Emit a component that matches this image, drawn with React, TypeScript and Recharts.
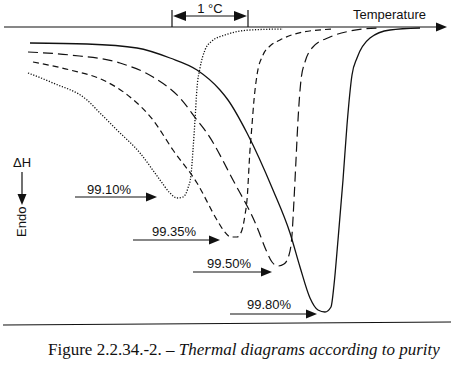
import React from 'react';
import { LineChart, Line, XAxis, YAxis, ReferenceLine, ReferenceDot } from 'recharts';

// t: temperature (arbitrary units, 76 units = 1 °C), d: heat flow depth below baseline (endo down)
const curve9910 = [
  { t: 28, d: 46 }, { t: 53, d: 56 }, { t: 87, d: 73 }, { t: 100, d: 86 }, { t: 117, d: 103 },
  { t: 140, d: 126 }, { t: 160, d: 153 }, { t: 170, d: 166 }, { t: 177, d: 171 }, { t: 183, d: 170 },
  { t: 188, d: 161 }, { t: 191, d: 148 }, { t: 193, d: 123 }, { t: 195, d: 93 }, { t: 197, d: 61 },
  { t: 200, d: 41 }, { t: 205, d: 23 }, { t: 212, d: 14 }, { t: 225, d: 8 }, { t: 250, d: 3 },
  { t: 283, d: 2 },
];

const curve9935 = [
  { t: 33, d: 35 }, { t: 70, d: 43 }, { t: 103, d: 53 }, { t: 130, d: 70 }, { t: 153, d: 93 },
  { t: 173, d: 123 }, { t: 197, d: 156 }, { t: 217, d: 193 }, { t: 224, d: 204 }, { t: 231, d: 210 },
  { t: 237, d: 210 }, { t: 242, d: 203 }, { t: 245, d: 188 }, { t: 247, d: 173 }, { t: 250, d: 123 },
  { t: 252, d: 98 }, { t: 254, d: 73 }, { t: 257, d: 48 }, { t: 263, d: 28 }, { t: 270, d: 19 },
  { t: 280, d: 13 }, { t: 303, d: 5 }, { t: 335, d: 2 },
];

const curve9950 = [
  { t: 28, d: 25 }, { t: 70, d: 28 }, { t: 120, d: 36 }, { t: 153, d: 50 }, { t: 180, d: 71 },
  { t: 197, d: 93 }, { t: 207, d: 106 }, { t: 233, d: 153 }, { t: 257, d: 200 }, { t: 266, d: 223 },
  { t: 272, d: 235 }, { t: 278, d: 239 }, { t: 284, d: 237 }, { t: 289, d: 228 }, { t: 292, d: 208 },
  { t: 294, d: 173 }, { t: 296, d: 133 }, { t: 298, d: 93 }, { t: 301, d: 53 }, { t: 305, d: 35 },
  { t: 312, d: 21 }, { t: 330, d: 10 }, { t: 350, d: 4 }, { t: 377, d: 1 },
];

const curve9980 = [
  { t: 30, d: 16 }, { t: 87, d: 17 }, { t: 137, d: 21 }, { t: 170, d: 31 }, { t: 197, d: 43 },
  { t: 220, d: 63 }, { t: 228, d: 73 }, { t: 247, d: 106 }, { t: 273, d: 163 }, { t: 290, d: 206 },
  { t: 300, d: 240 }, { t: 310, d: 271 }, { t: 318, d: 283 }, { t: 325, d: 285 }, { t: 331, d: 280 },
  { t: 334, d: 258 }, { t: 338, d: 213 }, { t: 343, d: 153 }, { t: 347, d: 98 }, { t: 352, d: 48 },
  { t: 357, d: 31 }, { t: 370, d: 11 }, { t: 390, d: 3 }, { t: 420, d: 1 },
];

const purityLabels = ['99.10%', '99.35%', '99.50%', '99.80%'];
const arrowFrom = [75, 133, 193, 230];
const arrowTo = [157, 220, 272, 317];
const arrowDepth = [170, 213, 245, 287];
const labelStart = [87, 152, 207, 247];
const labelDepth = [167, 209, 241, 282];

const FONT = '"Liberation Sans", Arial, Helvetica, sans-serif';
const INK = '#111';

const head = (x: number, y: number, ang: number, len = 11, half = 4.5) => {
  const bx = x - len * Math.cos(ang);
  const by = y - len * Math.sin(ang);
  const px = -Math.sin(ang) * half;
  const py = Math.cos(ang) * half;
  return { bx, by, pts: `${x},${y} ${bx + px},${by + py} ${bx - px},${by - py}` };
};

const ArrowShape = (p: any) => {
  const ang = Math.atan2(p.y2 - p.y1, p.x2 - p.x1);
  const h = head(p.x2, p.y2, ang);
  return (
    <g>
      <line x1={p.x1} y1={p.y1} x2={h.bx} y2={h.by} stroke={INK} strokeWidth={1.2} />
      <polygon points={h.pts} fill={INK} />
    </g>
  );
};

const DoubleArrowShape = (p: any) => {
  const ang = Math.atan2(p.y2 - p.y1, p.x2 - p.x1);
  const a = head(p.x2, p.y2, ang, 13, 5);
  const b = head(p.x1, p.y1, ang + Math.PI, 13, 5);
  return (
    <g>
      <line x1={b.bx} y1={b.by} x2={a.bx} y2={a.by} stroke={INK} strokeWidth={1.2} />
      <polygon points={a.pts} fill={INK} />
      <polygon points={b.pts} fill={INK} />
    </g>
  );
};

const PlainShape = (p: any) => (
  <line x1={p.x1} y1={p.y1} x2={p.x2} y2={p.y2} stroke={INK} strokeWidth={1.2} />
);

const textShape = (value: string, anchor: 'start' | 'middle' | 'end' = 'start', rotate = 0) => (p: any) => (
  <text
    x={p.cx}
    y={p.cy}
    textAnchor={anchor}
    fontSize={13}
    fontFamily={FONT}
    fill={INK}
    transform={rotate ? `rotate(${rotate} ${p.cx} ${p.cy})` : undefined}
  >
    {value}
  </text>
);

export default function App() {
  return (
    <div style={{ position: 'absolute', left: 0, top: 0, width: 454, height: 367, background: '#fff' }}>
      <LineChart width={454} height={367} margin={{ top: 27, right: 0, bottom: 40, left: 0 }}>
        <XAxis type="number" dataKey="t" domain={[0, 454]} hide allowDataOverflow />
        <YAxis type="number" dataKey="d" domain={[0, 300]} reversed hide allowDataOverflow />

        {/* baselines */}
        <ReferenceLine ifOverflow="visible" segment={[{ x: 4, y: 0 }, { x: 447, y: 0 }]} shape={ArrowShape} />
        <ReferenceLine ifOverflow="visible" segment={[{ x: 3, y: 298 }, { x: 451, y: 295 }]} shape={PlainShape} />
        <ReferenceDot ifOverflow="visible" x={426} y={-8} shape={textShape('Temperature', 'end')} />

        {/* 1 °C scale bar */}
        <ReferenceLine ifOverflow="visible" segment={[{ x: 172, y: -17 }, { x: 172, y: 0 }]} shape={PlainShape} />
        <ReferenceLine ifOverflow="visible" segment={[{ x: 248, y: -17 }, { x: 248, y: 0 }]} shape={PlainShape} />
        <ReferenceLine ifOverflow="visible" segment={[{ x: 173, y: -11 }, { x: 247, y: -11 }]} shape={DoubleArrowShape} />
        <ReferenceDot ifOverflow="visible" x={210} y={-14} shape={textShape('1 °C', 'middle')} />

        {/* ΔH / Endo */}
        <ReferenceDot ifOverflow="visible" x={22} y={140} shape={textShape('ΔH', 'middle')} />
        <ReferenceLine ifOverflow="visible" segment={[{ x: 22, y: 145 }, { x: 22, y: 178 }]} shape={ArrowShape} />
        <ReferenceDot ifOverflow="visible" x={26} y={210} shape={textShape('Endo', 'start', -90)} />

        {/* purity labels */}
        {purityLabels.map((lab, i) => (
          <ReferenceLine
            key={'a' + lab}
            ifOverflow="visible"
            segment={[{ x: arrowFrom[i], y: arrowDepth[i] }, { x: arrowTo[i], y: arrowDepth[i] }]}
            shape={ArrowShape}
          />
        ))}
        {purityLabels.map((lab, i) => (
          <ReferenceDot key={'t' + lab} ifOverflow="visible" x={labelStart[i]} y={labelDepth[i]} shape={textShape(lab)} />
        ))}

        <Line data={curve9910} dataKey="d" type="monotone" stroke={INK} strokeWidth={1.3} strokeDasharray="1.2 1.6" dot={false} activeDot={false} isAnimationActive={false} />
        <Line data={curve9935} dataKey="d" type="monotone" stroke={INK} strokeWidth={1.2} strokeDasharray="6 4" dot={false} activeDot={false} isAnimationActive={false} />
        <Line data={curve9950} dataKey="d" type="monotone" stroke={INK} strokeWidth={1.2} strokeDasharray="10 5" dot={false} activeDot={false} isAnimationActive={false} />
        <Line data={curve9980} dataKey="d" type="monotone" stroke={INK} strokeWidth={1.3} dot={false} activeDot={false} isAnimationActive={false} />
      </LineChart>
      <div
        style={{
          position: 'absolute',
          left: 48,
          top: 341,
          fontFamily: '"Liberation Serif", "Times New Roman", serif',
          fontSize: 17,
          lineHeight: '17px',
          whiteSpace: 'nowrap',
          color: '#111',
        }}
      >
        Figure 2.2.34.-2. – <i>Thermal diagrams according to purity</i>
      </div>
    </div>
  );
}
